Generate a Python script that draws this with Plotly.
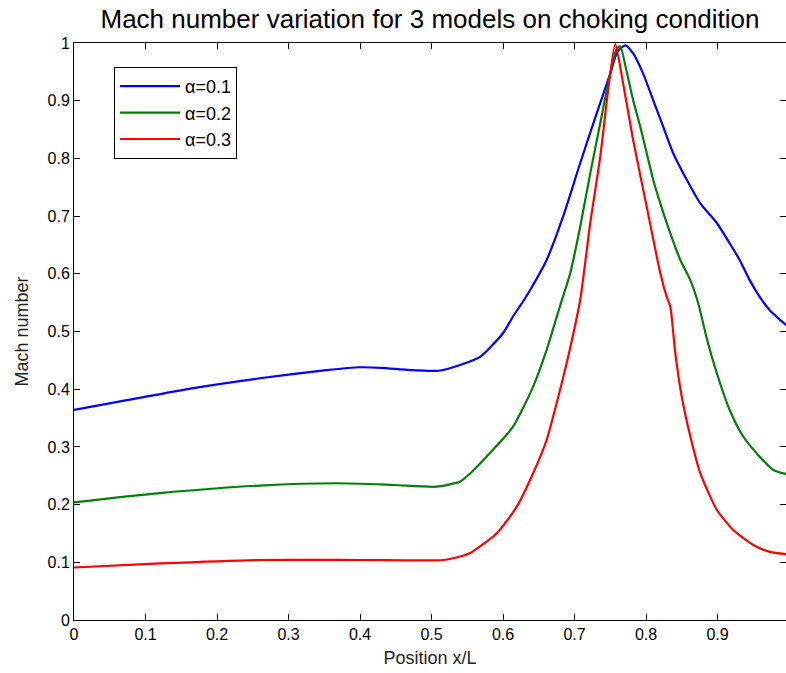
import plotly.graph_objects as go

# ---- data ----
x_a1 = [0, 0.074, 0.167, 0.26, 0.353, 0.40, 0.43, 0.47, 0.51, 0.54, 0.568, 0.60, 0.614,
        0.628, 0.638, 0.661, 0.684, 0.708, 0.731, 0.750, 0.760, 0.771, 0.782, 0.796, 0.810,
        0.824, 0.838, 0.857, 0.876, 0.899, 0.917, 0.931, 0.945, 0.959, 0.973, 0.996]
y_a1 = [0.364, 0.381, 0.402, 0.419, 0.433, 0.438, 0.437, 0.433, 0.432, 0.442, 0.456, 0.497, 0.526,
        0.552, 0.572, 0.624, 0.699, 0.792, 0.878, 0.947, 0.985, 0.996, 0.982, 0.947, 0.901,
        0.855, 0.809, 0.763, 0.722, 0.688, 0.653, 0.624, 0.589, 0.560, 0.537, 0.511]

x_a2 = [0, 0.12, 0.26, 0.367, 0.447, 0.507, 0.540, 0.554, 0.586, 0.614, 0.642, 0.661, 0.680,
        0.694, 0.708, 0.722, 0.736, 0.750, 0.759, 0.764, 0.773, 0.782, 0.792, 0.801, 0.810,
        0.820, 0.834, 0.848, 0.862, 0.873, 0.885, 0.899, 0.917, 0.936, 0.959, 0.978, 0.996]
y_a2 = [0.204, 0.220, 0.233, 0.237, 0.234, 0.231, 0.240, 0.254, 0.295, 0.335, 0.404, 0.468, 0.545,
        0.601, 0.682, 0.774, 0.861, 0.947, 0.990, 0.994, 0.950, 0.901, 0.855, 0.809, 0.763,
        0.722, 0.670, 0.624, 0.589, 0.549, 0.488, 0.428, 0.364, 0.318, 0.283, 0.260, 0.253]

x_a3 = [0, 0.12, 0.26, 0.40, 0.517, 0.540, 0.554, 0.591, 0.619, 0.642, 0.661, 0.680, 0.694,
        0.708, 0.722, 0.736, 0.747, 0.757, 0.768, 0.782, 0.801, 0.820, 0.829, 0.834, 0.841,
        0.850, 0.862, 0.876, 0.899, 0.922, 0.950, 0.973, 0.996]
y_a3 = [0.091, 0.098, 0.104, 0.104, 0.104, 0.110, 0.116, 0.150, 0.196, 0.254, 0.312, 0.400, 0.472,
        0.555, 0.688, 0.803, 0.918, 0.998, 0.930, 0.832, 0.716, 0.601, 0.560, 0.543, 0.462,
        0.387, 0.318, 0.254, 0.191, 0.156, 0.130, 0.118, 0.114]

series_names = ["α=0.1", "α=0.2", "α=0.3"]
series_colors = ["#0000FF", "#008000", "#FF0000"]

x_ticks = [0, 0.1, 0.2, 0.3, 0.4, 0.5, 0.6, 0.7, 0.8, 0.9]
x_tick_labels = ["0", "0.1", "0.2", "0.3", "0.4", "0.5", "0.6", "0.7", "0.8", "0.9"]
y_ticks = [0, 0.1, 0.2, 0.3, 0.4, 0.5, 0.6, 0.7, 0.8, 0.9, 1.0]
y_tick_labels = ["0", "0.1", "0.2", "0.3", "0.4", "0.5", "0.6", "0.7", "0.8", "0.9", "1"]

FONT = "Liberation Sans, Arial, sans-serif"

fig = go.Figure()
for xs, ys, name, col in zip([x_a1, x_a2, x_a3], [y_a1, y_a2, y_a3], series_names, series_colors):
    fig.add_trace(go.Scatter(x=xs, y=ys, mode="lines", name=name,
                             line=dict(color=col, width=2.2, shape="spline", smoothing=0.6)))

axis_common = dict(
    showgrid=False, zeroline=False, showline=True, linecolor="black", linewidth=1,
    mirror="ticks", ticks="inside", ticklen=6, tickwidth=1, tickcolor="black",
    tickfont=dict(family=FONT, size=16, color="black"),
)

fig.update_layout(
    width=786, height=673,
    margin=dict(l=74, r=0, t=43, b=53),
    paper_bgcolor="white", plot_bgcolor="white",
    title=dict(text="Mach number variation for 3 models on choking condition",
               x=0.5, xref="paper", xanchor="center",
               y=1 - 19 / 673, yref="container", yanchor="middle",
               font=dict(family=FONT, size=26, color="black")),
    xaxis=dict(range=[0, 712 / 715], tickvals=x_ticks, ticktext=x_tick_labels,
               title=dict(text="Position x/L", standoff=9,
                          font=dict(family=FONT, size=18, color="#222222")),
               **axis_common),
    yaxis=dict(range=[0, 1], tickvals=y_ticks, ticktext=y_tick_labels,
               title=dict(text="Mach number", standoff=14,
                          font=dict(family=FONT, size=18, color="#222222")),
               **axis_common),
    legend=dict(x=(114 - 74) / 712, y=(620 - 67) / 577, xanchor="left", yanchor="top",
                bgcolor="white", bordercolor="black", borderwidth=1,
                font=dict(family=FONT, size=18, color="black"),
                itemwidth=60, tracegroupgap=0),
    showlegend=True,
)

fig.write_html("out.html")
